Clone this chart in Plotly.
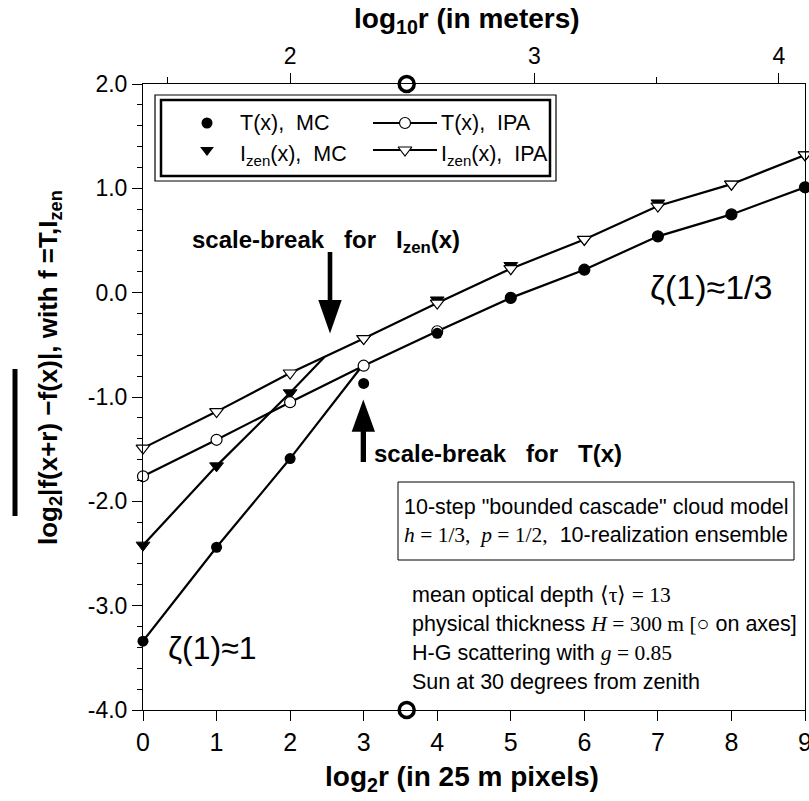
import numpy as np
import plotly.graph_objects as go

# ---------------- data ----------------
log2_r = [0, 1, 2, 3, 4, 5, 6, 7, 8, 9]
T_MC = [-3.34, -2.44, -1.59, -0.87, -0.39, -0.05, 0.22, 0.54, 0.75, 1.01]
T_IPA = [-1.76, -1.41, -1.05, -0.70, -0.37, -0.05, 0.22, 0.54, 0.75, 1.01]
Izen_MC = [-2.42, -1.66, -0.96, -0.44, -0.07, 0.26, 0.51, 0.86, 1.04, 1.32]
Izen_IPA = [-1.49, -1.14, -0.77, -0.44, -0.10, 0.23, 0.51, 0.83, 1.04, 1.32]
T_break = 2.97      # log2 r where the MC power law meets the IPA curve (T)
Izen_break = 2.47   # same for I_zen
pixel_m = 25        # pixel size in meters
H_m = 300           # physical thickness in meters
y_tickvals = [-4, -3, -2, -1, 0, 1, 2]
y_ticktext = ["-4.0", "-3.0", "-2.0", "-1.0", "0.0", "1.0", "2.0"]
x_tickvals = [0, 1, 2, 3, 4, 5, 6, 7, 8, 9]
top_tickvals = [2, 3, 4]
top_minorvals = [1.5, 2.5, 3.5]

# ---------------- helpers: reference-pixel -> data coordinates ----------------
X0, X1, Y0, Y1 = 143, 805, 84, 710
W, H = 809, 801


def px2x(px):
    return (px - X0) / (X1 - X0) * 9


def py2y(py):
    return 2 - (py - Y0) / (Y1 - Y0) * 6


def px2p(px):
    return (px - X0) / (X1 - X0)


def py2p(py):
    return (Y1 - py) / (Y1 - Y0)


FONT = "Liberation Sans"
SERIF = "Liberation Serif"
BLK = "black"

fig = go.Figure()

# invisible trace that activates the top axis (log10 r in meters)
top_vals = [np.log10(pixel_m * 2.0 ** v) for v in log2_r]
fig.add_trace(go.Scatter(x=top_vals, y=[None] * len(top_vals), xaxis="x2", yaxis="y",
                         mode="lines", showlegend=False, hoverinfo="skip"))

# MC fit segments up to the scale break
T_fit_x = log2_r[:3] + [T_break]
T_fit_y = T_MC[:3] + [float(np.interp(T_break, log2_r, T_IPA))]
I_fit_x = log2_r[:3] + [Izen_break]
I_fit_y = Izen_MC[:3] + [float(np.interp(Izen_break, log2_r, Izen_IPA))]

fig.add_trace(go.Scatter(x=I_fit_x, y=I_fit_y, mode="lines",
                         line=dict(color=BLK, width=2.2), showlegend=False, hoverinfo="skip"))
fig.add_trace(go.Scatter(x=T_fit_x, y=T_fit_y, mode="lines",
                         line=dict(color=BLK, width=2.2), showlegend=False, hoverinfo="skip"))

# I_zen MC (filled triangles, under the IPA open triangles)
fig.add_trace(go.Scatter(x=log2_r, y=Izen_MC, mode="markers", cliponaxis=False,
                         marker=dict(symbol="triangle-down", size=12, color=BLK,
                                     line=dict(color=BLK, width=1)),
                         name="I_zen(x), MC"))
# I_zen IPA
fig.add_trace(go.Scatter(x=log2_r, y=Izen_IPA, mode="lines+markers", cliponaxis=False,
                         line=dict(color=BLK, width=2.2),
                         marker=dict(symbol="triangle-down", size=12, color="white",
                                     line=dict(color=BLK, width=1.2)),
                         name="I_zen(x), IPA"))
# T IPA
fig.add_trace(go.Scatter(x=log2_r, y=T_IPA, mode="lines+markers", cliponaxis=False,
                         line=dict(color=BLK, width=2.2),
                         marker=dict(symbol="circle", size=11, color="white",
                                     line=dict(color=BLK, width=1.2)),
                         name="T(x), IPA"))
# T MC
fig.add_trace(go.Scatter(x=log2_r, y=T_MC, mode="markers", cliponaxis=False,
                         marker=dict(symbol="circle", size=11, color=BLK),
                         name="T(x), MC"))

# H markers on the axes
fig.add_trace(go.Scatter(x=[np.log2(H_m / pixel_m)], y=[-4], mode="markers", cliponaxis=False,
                         marker=dict(symbol="circle", size=15, color="white",
                                     line=dict(color=BLK, width=3.5)),
                         showlegend=False, hoverinfo="skip"))
fig.add_trace(go.Scatter(x=[np.log10(H_m)], y=[2], xaxis="x2", mode="markers", cliponaxis=False,
                         marker=dict(symbol="circle", size=15, color="white",
                                     line=dict(color=BLK, width=3.5)),
                         showlegend=False, hoverinfo="skip"))

shapes = []
annotations = []

# ---------------- legend box (double frame) ----------------
shapes.append(dict(type="rect", xref="x", yref="y", x0=px2x(155), x1=px2x(556),
                   y0=py2y(95), y1=py2y(181), line=dict(color=BLK, width=1.2),
                   fillcolor="white", layer="below"))
shapes.append(dict(type="rect", xref="x", yref="y", x0=px2x(161), x1=px2x(550),
                   y0=py2y(100), y1=py2y(176), line=dict(color=BLK, width=2.5),
                   layer="below"))
row1, row2 = 123, 150
for ry in (row1, row2):
    shapes.append(dict(type="line", xref="x", yref="y", x0=px2x(373), x1=px2x(437),
                       y0=py2y(ry), y1=py2y(ry), line=dict(color=BLK, width=2), layer="below"))
fig.add_trace(go.Scatter(x=[px2x(207)], y=[py2y(row1)], mode="markers", cliponaxis=False,
                         marker=dict(symbol="circle", size=11, color=BLK),
                         showlegend=False, hoverinfo="skip"))
fig.add_trace(go.Scatter(x=[px2x(207)], y=[py2y(row2)], mode="markers", cliponaxis=False,
                         marker=dict(symbol="triangle-down", size=12, color=BLK),
                         showlegend=False, hoverinfo="skip"))
fig.add_trace(go.Scatter(x=[px2x(405)], y=[py2y(row1)], mode="markers", cliponaxis=False,
                         marker=dict(symbol="circle", size=11, color="white",
                                     line=dict(color=BLK, width=1.2)),
                         showlegend=False, hoverinfo="skip"))
fig.add_trace(go.Scatter(x=[px2x(405)], y=[py2y(row2)], mode="markers", cliponaxis=False,
                         marker=dict(symbol="triangle-down", size=12, color="white",
                                     line=dict(color=BLK, width=1.2)),
                         showlegend=False, hoverinfo="skip"))


def txt(text, x, y, size=20, xanchor="left", yanchor="middle", bold=False, angle=0,
        xref="x", yref="y", family=FONT):
    if bold:
        text = "<b>" + text + "</b>"
    annotations.append(dict(text=text, x=x, y=y, xref=xref, yref=yref, showarrow=False,
                            xanchor=xanchor, yanchor=yanchor, textangle=angle,
                            font=dict(family=family, size=size, color=BLK)))


txt("T(x),  MC", px2x(238), py2y(row1), size=21.5)
txt("I<sub>zen</sub>(x),  MC", px2x(238), py2y(row2 + 5), size=21.5)
txt("T(x),  IPA", px2x(439), py2y(row1), size=21.5)
txt("I<sub>zen</sub>(x),  IPA", px2x(439), py2y(row2 + 5), size=21.5)


# ---------------- scale-break arrows ----------------
def poly(pts):
    return "M " + " L ".join(f"{px2x(a):.4f},{py2y(b):.4f}" for a, b in pts) + " Z"


shapes.append(dict(type="path", xref="x", yref="y", line=dict(width=0), fillcolor=BLK,
                   path=poly([(327.7, 252), (332.3, 252), (332.3, 300), (341.7, 300),
                              (330, 333.5), (318.3, 300), (327.7, 300)])))
shapes.append(dict(type="path", xref="x", yref="y", line=dict(width=0), fillcolor=BLK,
                   path=poly([(360.7, 462), (366, 462), (366, 431.7), (375, 431.7),
                              (363.3, 399.5), (351.7, 431.7), (360.7, 431.7)])))

txt("scale-break   for   I<sub>zen</sub>(x)", px2x(190), py2y(241), size=24, bold=True)
txt("scale-break   for   T(x)", px2x(372), py2y(453), size=24, bold=True)

# slopes
txt("ζ(1)≈1/3", px2x(648), py2y(287), size=34)
txt("ζ(1)≈1", px2x(166), py2y(648), size=32)

# model description box
shapes.append(dict(type="rect", xref="x", yref="y", x0=px2x(398), x1=px2x(794),
                   y0=py2y(482), y1=py2y(560), line=dict(color=BLK, width=1),
                   fillcolor="white", layer="below"))
txt('10-step "bounded cascade" cloud model', px2x(596), py2y(507), xanchor="center", size=21.5)
txt(f'<span style="font-family:{SERIF}"><i>h</i> = 1/3,  <i>p</i> = 1/2,</span>  10-realization ensemble',
    px2x(596), py2y(535), xanchor="center", size=21.5)

txt(f'mean optical depth <span style="font-family:{SERIF}">⟨τ⟩ = 13</span>', px2x(410), py2y(595), size=21.5)
txt(f'physical thickness <span style="font-family:{SERIF}"><i>H</i> = 300 m [</span>○ on axes]',
    px2x(410), py2y(624), size=21.5)
txt(f'H-G scattering with <span style="font-family:{SERIF}"><i>g</i> = 0.85</span>',
    px2x(410), py2y(653), size=21.5)
txt("Sun at 30 degrees from zenith", px2x(410), py2y(682), size=21.5)

# axis titles
txt("log<sub>2</sub>|f(x+r) −f(x)|, with f =T,I<sub>zen</sub>", px2p(49), py2p(368), size=26,
    bold=True, angle=-90, xanchor="center", yanchor="middle", xref="paper", yref="paper")
shapes.append(dict(type="line", xref="paper", yref="paper", x0=px2p(15), x1=px2p(15),
                   y0=py2p(516), y1=py2p(369), line=dict(color=BLK, width=5)))
txt("log<sub>10</sub>r (in meters)", px2p(467), py2p(21), size=28, bold=True,
    xanchor="center", xref="paper", yref="paper")
txt("log<sub>2</sub>r (in 25 m pixels)", px2p(462), py2p(778), size=28, bold=True,
    xanchor="center", xref="paper", yref="paper")

fig.update_layout(
    width=W, height=H,
    margin=dict(l=X0, r=W - X1, t=Y0, b=H - Y1, autoexpand=False),
    paper_bgcolor="white", plot_bgcolor="white",
    showlegend=False,
    font=dict(family=FONT, color=BLK, size=20),
    shapes=shapes, annotations=annotations,
    xaxis=dict(range=[0, 9], tickvals=x_tickvals, ticks="outside", ticklen=10, tickwidth=1,
               tickcolor=BLK, showline=True, linecolor=BLK, linewidth=1, showgrid=False,
               zeroline=False, tickfont=dict(size=25), ticklabeloverflow="allow",
               automargin=False),
    xaxis2=dict(overlaying="x", side="top",
                range=[np.log10(pixel_m), np.log10(pixel_m * 2.0 ** 9)],
                tickmode="array", tickvals=top_tickvals, ticks="outside", ticklen=10,
                tickcolor=BLK, showline=True, linecolor=BLK, linewidth=1, showgrid=False,
                zeroline=False, tickfont=dict(size=23), ticklabeloverflow="allow",
                automargin=False,
                minor=dict(tickmode="array", tickvals=top_minorvals, ticks="outside",
                           ticklen=6, tickcolor=BLK)),
    yaxis=dict(range=[-4, 2], tickvals=y_tickvals, ticktext=y_ticktext, ticks="outside",
               ticklen=10, tickcolor=BLK, showline=True, mirror=True, linecolor=BLK,
               linewidth=1, showgrid=False, zeroline=False, tickfont=dict(size=23),
               automargin=False,
               minor=dict(dtick=0.2, ticks="outside", ticklen=5, tickcolor=BLK)),
)

fig.write_html("out.html", config={"displayModeBar": False},
               post_script="document.body.style.margin='0px';")
